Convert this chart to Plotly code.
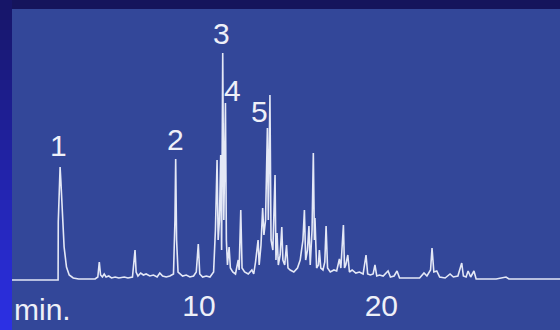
import plotly.graph_objects as go

# Chromatogram trace: time (min) and detector signal (arbitrary units)
time_min = [
    -0.26, 2.26, 2.27, 2.28, 2.33, 2.38, 2.42, 2.52, 2.60, 2.73, 2.88, 3.10, 3.40, 3.90, 4.30, 4.45,
    4.53, 4.60, 4.70, 4.80, 4.90, 5.05, 5.20, 5.40, 5.60, 5.90, 6.10, 6.35, 6.45, 6.49, 6.55, 6.65,
    6.80, 6.95, 7.10, 7.30, 7.50, 7.70, 7.85, 8.00, 8.20, 8.40, 8.60, 8.68, 8.72, 8.77, 8.85, 8.95,
    9.10, 9.30, 9.50, 9.70, 9.85, 9.96, 10.04, 10.20, 10.40, 10.60, 10.80, 10.90, 10.99, 11.05, 11.12, 11.19,
    11.24, 11.30, 11.36, 11.45, 11.50, 11.56, 11.65, 11.72, 11.85, 12.00, 12.15, 12.20, 12.29, 12.36, 12.50, 12.70,
    12.90, 13.00, 13.10, 13.24, 13.30, 13.40, 13.49, 13.56, 13.65, 13.75, 13.80, 13.89, 13.95, 14.05, 14.17, 14.22,
    14.28, 14.35, 14.45, 14.54, 14.60, 14.70, 14.80, 14.88, 15.00, 15.20, 15.40, 15.55, 15.70, 15.78, 15.85, 15.95,
    16.03, 16.10, 16.20, 16.27, 16.33, 16.36, 16.45, 16.55, 16.60, 16.68, 16.80, 16.90, 16.97, 17.05, 17.20, 17.40,
    17.55, 17.70, 17.78, 17.92, 17.98, 18.05, 18.16, 18.25, 18.40, 18.60, 18.80, 19.00, 19.16, 19.25, 19.40, 19.55,
    19.65, 19.75, 19.90, 20.10, 20.37, 20.50, 20.70, 20.86, 21.00, 21.30, 21.70, 22.10, 22.34, 22.50, 22.70, 22.78,
    22.88, 23.04, 23.20, 23.50, 23.77, 23.95, 24.20, 24.41, 24.50, 24.65, 24.76, 24.90, 25.08, 25.20, 25.60, 26.30,
    26.84, 27.00, 28.50, 29.80,
]
signal = [
    0, 0, 0, 58, 85, 113, 100, 67, 33, 13, 5, 2, 1, 1, 1, 3,
    18, 5, 3, 6, 3, 4, 2, 3, 2, 3, 2, 3, 20, 30, 8, 4,
    7, 5, 6, 4, 5, 3, 7, 4, 3, 4, 6, 60, 121, 40, 8, 6,
    4, 5, 3, 4, 8, 36, 6, 3, 4, 3, 8, 50, 120, 40, 60, 125,
    30, 227, 60, 177, 40, 15, 33, 12, 8, 6, 20, 10, 70, 12, 8, 6,
    10, 6, 18, 40, 15, 35, 72, 45, 60, 152, 60, 185, 40, 30, 105, 20,
    47, 15, 25, 53, 20, 15, 35, 12, 10, 8, 12, 20, 40, 70, 20, 30,
    54, 15, 50, 127, 40, 62, 12, 15, 30, 12, 10, 18, 54, 12, 8, 10,
    9, 21, 12, 55, 12, 15, 25, 8, 10, 7, 8, 6, 25, 6, 5, 6,
    15, 4, 5, 4, 9, 3, 4, 9, 2, 2, 2, 2, 7, 4, 10, 32,
    8, 9, 3, 2, 6, 3, 4, 17, 4, 3, 9, 3, 9, 1, 1, 1,
    3, 1, 1, 1,
]

# Peak labels
peak_labels = ["1", "2", "3", "4", "5"]
peak_label_time = [2.27, 8.71, 11.23, 11.81, 13.32]
peak_label_signal = [135, 141, 247, 190, 169]

# Axis ticks
tick_vals = [10, 20]
tick_text = ["10", "20"]

TEXT = "#eef0f8"
FONT = "Liberation Sans, Arial, sans-serif"
FSIZE = 30

fig = go.Figure()
fig.add_trace(go.Scatter(
    x=time_min, y=signal, mode="lines",
    line=dict(color="#e4e8f6", width=1.6),
    hoverinfo="skip", showlegend=False,
))

for lab, tx, sy in zip(peak_labels, peak_label_time, peak_label_signal):
    fig.add_annotation(x=tx, y=sy, xref="x", yref="y", text=lab, showarrow=False,
                       font=dict(family=FONT, size=FSIZE, color=TEXT),
                       xanchor="center", yanchor="middle")

# "min." unit label at the left of the time axis
fig.add_annotation(x=0, y=-0.09, xref="paper", yref="paper", text="min.", showarrow=False,
                   font=dict(family=FONT, size=FSIZE, color=TEXT), xanchor="left", yanchor="middle")

# Frame: dark top band and left gradient band
shapes = [dict(type="rect", xref="paper", yref="paper", x0=-0.1, x1=1.1, y0=1.0, y1=1.2,
               fillcolor="#15145c", line=dict(width=0), layer="below")]
n = 33
c0 = (0x16, 0x15, 0x66)
c1 = (0x2c, 0x30, 0xe6)
for i in range(n):
    ytop = i * 10
    ybot = ytop + 10
    f = (i + 0.5) / n
    col = "rgb(%d,%d,%d)" % tuple(round(a + (b - a) * f) for a, b in zip(c0, c1))
    shapes.append(dict(type="rect", xref="paper", yref="paper", x0=-0.1, x1=0,
                       y0=(285 - ybot) / 276, y1=(285 - ytop) / 276,
                       fillcolor=col, line=dict(width=0), layer="below"))

fig.update_layout(
    width=560, height=330,
    margin=dict(l=12, r=0, t=9, b=45, pad=0),
    paper_bgcolor="#334799", plot_bgcolor="#334799",
    shapes=shapes,
    xaxis=dict(range=[-0.258, 29.80], showgrid=False, zeroline=False, showline=False,
               tickvals=tick_vals, ticktext=tick_text, ticks="",
               tickfont=dict(family=FONT, size=FSIZE, color=TEXT)),
    yaxis=dict(range=[-5, 271], showgrid=False, zeroline=False, showline=False,
               showticklabels=False, ticks=""),
    hovermode=False,
)

fig.write_html("out.html", config={"displayModeBar": False, "staticPlot": True})
